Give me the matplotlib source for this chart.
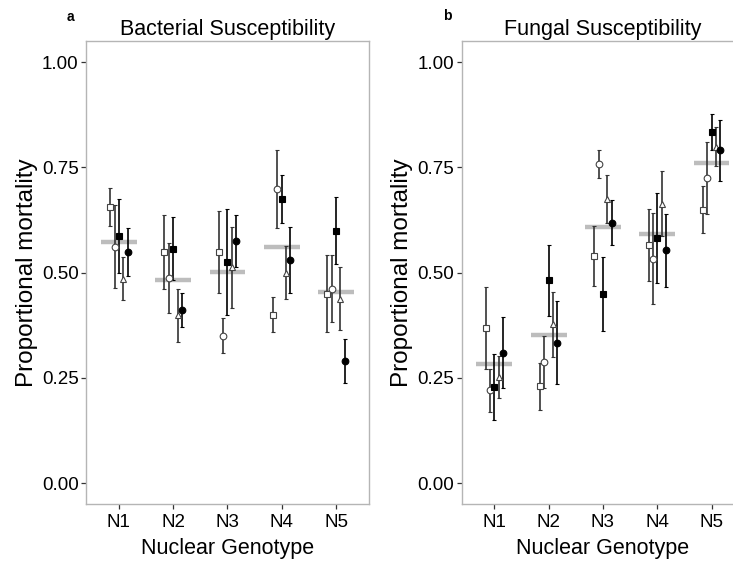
import matplotlib
matplotlib.use("Agg")
import matplotlib.pyplot as plt
import numpy as np

plt.rcParams['font.family'] = ['Liberation Sans', 'DejaVu Sans']

genotypes = ["N1", "N2", "N3", "N4", "N5"]

# one row per marker series (open square, open circle, filled square, open triangle, filled circle)
bact_means = [
    [0.656, 0.549, 0.549, 0.400, 0.450],
    [0.562, 0.487, 0.350, 0.698, 0.462],
    [0.588, 0.557, 0.525, 0.675, 0.600],
    [0.486, 0.399, 0.513, 0.500, 0.438],
    [0.550, 0.412, 0.575, 0.530, 0.291],
]
bact_se = [
    [0.046, 0.088, 0.097, 0.042, 0.091],
    [0.098, 0.083, 0.042, 0.092, 0.079],
    [0.088, 0.075, 0.126, 0.057, 0.080],
    [0.052, 0.063, 0.096, 0.063, 0.075],
    [0.057, 0.040, 0.062, 0.079, 0.052],
]
bact_overall = [0.573, 0.483, 0.502, 0.560, 0.455]

fung_means = [
    [0.368, 0.230, 0.540, 0.565, 0.649],
    [0.221, 0.288, 0.758, 0.533, 0.724],
    [0.228, 0.482, 0.450, 0.583, 0.833],
    [0.252, 0.377, 0.675, 0.664, 0.799],
    [0.310, 0.334, 0.619, 0.553, 0.790],
]
fung_se = [
    [0.097, 0.055, 0.071, 0.086, 0.056],
    [0.051, 0.061, 0.034, 0.108, 0.085],
    [0.078, 0.084, 0.088, 0.107, 0.043],
    [0.050, 0.078, 0.056, 0.078, 0.046],
    [0.085, 0.098, 0.054, 0.086, 0.072],
]
fung_overall = [0.283, 0.351, 0.608, 0.591, 0.760]

markers = ['s', 'o', 's', '^', 'o']
filled = [False, False, True, False, True]


def draw_panel(ax, means, se, overall, title):
    x = np.arange(1, len(genotypes) + 1)
    ax.hlines(overall, x - 0.33, x + 0.33, color='#bdbdbd', linewidth=3.2, zorder=1)
    for i in range(len(means)):
        off = (i - 2) * 0.08
        if filled[i]:
            face, edge, lc = 'black', 'black', 'black'
        else:
            face, edge, lc = 'white', '#444444', '#333333'
        ax.errorbar(x + off, means[i], yerr=se[i], fmt=markers[i], ms=4.8,
                    mfc=face, mec=edge, mew=0.8, ecolor=lc, elinewidth=1.2,
                    capsize=1.6, capthick=0.9, zorder=3)
    ax.set_xlim(0.4, 5.6)
    ax.set_ylim(-0.05, 1.05)
    ax.set_xticks(x)
    ax.set_xticklabels(genotypes)
    ax.set_yticks([0, 0.25, 0.5, 0.75, 1.0])
    ax.set_yticklabels(['0.00', '0.25', '0.50', '0.75', '1.00'])
    ax.tick_params(labelsize=13.5, length=3.5, width=0.9, color='#333333', pad=2)
    ax.tick_params(axis='x', pad=3.5)
    for s in ax.spines.values():
        s.set_color('#b5b5b5')
        s.set_linewidth(1.0)
    ax.set_title(title, fontsize=15.5, pad=4)
    ax.set_xlabel('Nuclear Genotype', fontsize=15.5, labelpad=5)
    ax.set_ylabel('Proportional mortality', fontsize=17.5, labelpad=3)


fig = plt.figure(figsize=(7.33, 5.63), dpi=100)
ax1 = fig.add_axes([0.1177, 0.1043, 0.3853, 0.8229])
ax2 = fig.add_axes([0.6299, 0.1043, 0.3853, 0.8229])
draw_panel(ax1, bact_means, bact_se, bact_overall, 'Bacterial Susceptibility')
draw_panel(ax2, fung_means, fung_se, fung_overall, 'Fungal Susceptibility')
fig.text(70 / 733, 1 - 17 / 563, 'a', fontsize=10, fontweight='bold', ha='center', va='center')
fig.text(447 / 733, 1 - 16 / 563, 'b', fontsize=10, fontweight='bold', ha='center', va='center')

fig.savefig('out.png', dpi=100)
